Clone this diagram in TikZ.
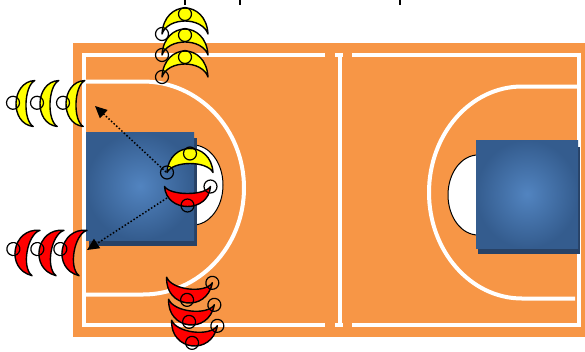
\documentclass[tikz,border=0pt]{standalone}
\usetikzlibrary{arrows.meta}

\definecolor{courtorange}{RGB}{247,150,70}
\definecolor{boardlight}{RGB}{82,132,192}
\definecolor{boarddark}{RGB}{52,92,142}
\definecolor{boardshadow}{RGB}{40,66,102}
\definecolor{teamyellow}{RGB}{255,255,0}
\definecolor{teamred}{RGB}{255,0,0}

\tikzset{
  courtline/.style={white, line width=4pt},
  keyoval/.style={draw=black, line width=1pt, fill=white},
  board/.style={inner color=boardlight, outer color=boarddark},
  moonline/.style={draw=black, line width=1.4pt, line join=round},
  headline/.style={draw=black, line width=1.2pt},
  tickmark/.style={black, line width=1.6pt},
  passarrow/.style={black, line width=1.5pt, dash pattern=on 1.5pt off 2pt,
    -{Triangle[length=12pt,width=11pt]}},
}

% crescent player: #1 position, #2 rotation, #3 colour, #4 outer bulge,
% #5 inner bulge, #6 head distance, #7 circle at the tip (1 or 0)
\newcommand{\moonplayer}[7]{%
  \begin{scope}[shift={#1}, rotate=#2]
    \path[moonline, fill=#3] (-23,0) .. controls (-21,{-1.333*#4}) and (21,{-1.333*#4}) .. (23,0)
      .. controls (17,{-1.333*#5}) and (-17,{-1.333*#5}) .. cycle;
    \draw[headline] (0,-#6) circle[radius=6.5pt];
    \ifnum#7=1\relax \draw[headline] (-23,0) circle[radius=6.5pt];\fi
  \end{scope}}

\begin{document}
\begin{tikzpicture}[x=1pt,y=-1pt]
\useasboundingbox (0,0) rectangle (585,351);

% floor
\fill[courtorange] (73,43) rectangle (585,337);

% boundary and half-court lines
\draw[courtline] (325,55) -- (84,55) -- (84,325) -- (325,325);
\draw[courtline] (352,55) -- (579,55) -- (579,325) -- (352,325);
\fill[white] (334.5,53) rectangle (343,57);
\fill[white] (334.5,323) rectangle (343,327);
\draw[courtline] (339.5,55) -- (339.5,325);

% three-point lines
\draw[courtline] (86,81.5) -- (143,81.5)
  arc[start angle=-90, end angle=90, x radius=101, y radius=106.5] -- (86,294.5);
\draw[courtline] (577,86.5) -- (522,86.5)
  arc[start angle=-90, end angle=-270, x radius=93, y radius=106] -- (575,298.5);

% key ovals
\draw[keyoval] (193,185) ellipse[x radius=30, y radius=40];
\draw[keyoval] (478,195) ellipse[x radius=30, y radius=40];

% backboards
\fill[boardshadow] (89,138) rectangle (197,246);
\shade[board] (86,132) rectangle (194,240);
\fill[boardshadow] (478,147) rectangle (580,254);
\shade[board] (476,140) rectangle (578,248);

% marks along the top edge
\draw[tickmark] (185,0) -- (185,4.5);
\draw[tickmark] (240,0) -- (240,4.5);
\draw[tickmark] (400,0) -- (400,4.5);

% passes
\coordinate (ystart) at (166,172);
\coordinate (yend) at (95,106);
\coordinate (rstart) at (167,198);
\coordinate (rend) at (87,250);
\draw[passarrow] (ystart) -- (yend);
\draw[passarrow] (rstart) -- (rend);

% yellow column on top
\moonplayer{(185,34)}{0}{teamyellow}{26}{13}{20}{1}
\moonplayer{(185,55)}{0}{teamyellow}{26}{13}{20}{1}
\moonplayer{(185,77)}{0}{teamyellow}{26}{13}{20}{1}

% yellow row on the left
\moonplayer{(34,103.5)}{88}{teamyellow}{18}{8}{21}{0}
\moonplayer{(58,103.5)}{88}{teamyellow}{18}{8}{21}{0}
\moonplayer{(84,103.5)}{88}{teamyellow}{18}{8}{21}{0}

% red row on the left
\moonplayer{(36,253)}{80}{teamred}{21}{9}{23}{0}
\moonplayer{(60,253)}{80}{teamred}{21}{9}{23}{0}
\moonplayer{(83,253)}{80}{teamred}{21}{9}{23}{0}

% red column at the bottom
\moonplayer{(189.5,280)}{173}{teamred}{23}{9}{20}{1}
\moonplayer{(191.5,302)}{173}{teamred}{23}{9}{20}{1}
\moonplayer{(194.5,323)}{173}{teamred}{23}{9}{20}{1}

% players under the basket
\moonplayer{(190,172.5)}{0}{teamyellow}{24}{9}{19}{1}
\moonplayer{(187.5,186.5)}{180}{teamred}{20}{7}{19}{1}

\end{tikzpicture}
\end{document}
